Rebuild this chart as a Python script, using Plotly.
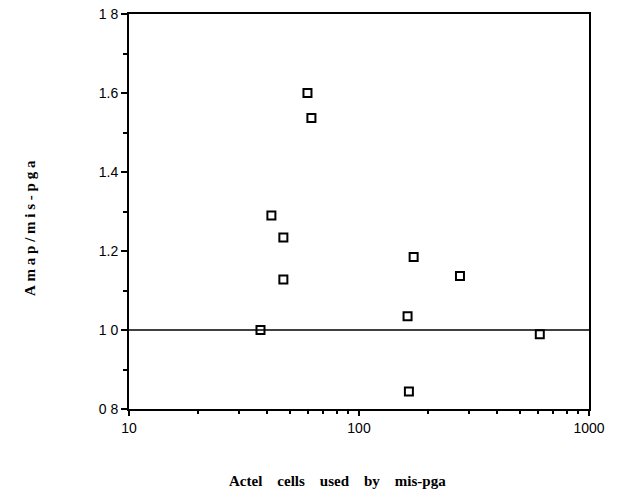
import plotly.graph_objects as go

cells = [59.7, 62.1, 41.6, 46.9, 46.9, 37.3, 172.8, 274.8, 162.6, 611, 164.8]
ratio = [1.600, 1.537, 1.290, 1.234, 1.128, 1.000, 1.185, 1.137, 1.035, 0.989, 0.844]

y_tickvals = [0.8, 1.0, 1.2, 1.4, 1.6, 1.8]
y_ticktext = ["0 8", "1 0", "1.2", "1.4", "1.6", "1 8"]
y_minor = [0.9, 1.1, 1.3, 1.5, 1.7]
x_tickvals = [10, 100, 1000]
x_ticktext = ["10", "100", "1000"]
x_minor = [20, 30, 40, 50, 60, 70, 80, 90, 200, 300, 400, 500, 600, 700, 800, 900]
ref_level = 1.0

L, R, T, B = 129, 28, 14, 83
W, H = 617, 492
pw, ph = W - L - R, H - T - B

fig = go.Figure()
fig.add_trace(go.Scatter(
    x=cells, y=ratio, mode="markers",
    marker=dict(symbol="square-open", size=8, color="black", line=dict(width=2, color="black")),
    showlegend=False,
))
fig.add_shape(type="line", xref="paper", x0=0, x1=1, yref="y", y0=ref_level, y1=ref_level,
              line=dict(color="black", width=1.5))

tickfont = dict(family="Liberation Sans, Arial", size=14, color="black")
nb = "\u00a0"
xtitle = (nb * 4).join(["Actel", "cells", "used", "by", "mis-pga"])
ytitle = nb.join(list("Amap/mis-pga"))
fig.update_layout(
    width=W, height=H,
    margin=dict(l=L, r=R, t=T, b=B, autoexpand=False),
    paper_bgcolor="white", plot_bgcolor="white",
    xaxis=dict(type="log", range=[1, 3], tickvals=x_tickvals, ticktext=x_ticktext,
               ticks="outside", ticklen=5, tickwidth=2, tickcolor="black",
               showline=True, mirror=True, linewidth=2, linecolor="black",
               showgrid=False, zeroline=False, tickfont=tickfont, automargin=False,
               minor=dict(tickvals=x_minor, ticks="outside", ticklen=3, tickwidth=1.5, tickcolor="black", showgrid=False)),
    yaxis=dict(range=[0.8, 1.8], tickvals=y_tickvals, ticktext=y_ticktext,
               ticks="outside", ticklen=6, tickwidth=2, tickcolor="black",
               showline=True, mirror=True, linewidth=2, linecolor="black",
               showgrid=False, zeroline=False, tickfont=tickfont, automargin=False,
               minor=dict(tickvals=y_minor, ticks="outside", ticklen=4, tickwidth=1.5, tickcolor="black", showgrid=False)),
    annotations=[
        dict(text="<b>" + xtitle + "</b>",
             xref="paper", yref="paper", x=(337 - L) / pw, y=(H - B - 481) / ph,
             xanchor="center", yanchor="middle", showarrow=False,
             font=dict(family="Liberation Serif, Times New Roman", size=15, color="black")),
        dict(text="<b>" + ytitle + "</b>",
             xref="paper", yref="paper", x=(30 - L) / pw, y=(H - B - 228) / ph,
             xanchor="center", yanchor="middle", showarrow=False, textangle=-90,
             font=dict(family="Liberation Serif, Times New Roman", size=15, color="black")),
    ],
)

fig.write_html("out.html", config={"displayModeBar": False},
               post_script="document.body.style.margin='0px';")
